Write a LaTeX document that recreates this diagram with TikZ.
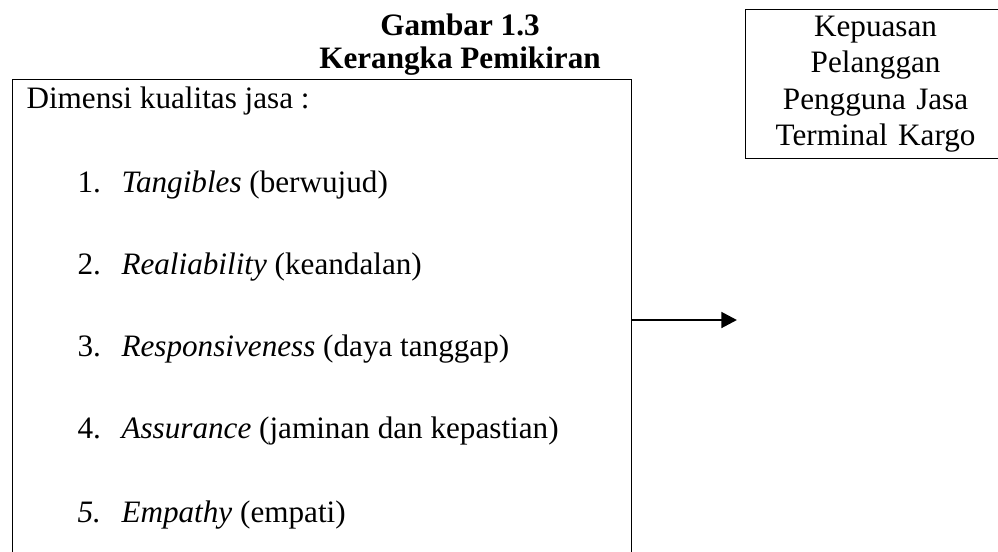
\documentclass[tikz,border=0pt]{standalone}
\usepackage{fontspec}
\setmainfont{Liberation Serif}
\usetikzlibrary{arrows.meta,positioning}

\begin{document}
\begin{tikzpicture}[
  x=0.385pt, y=-0.385pt,
  font=\fontsize{12}{14.1}\selectfont,
  title/.style={anchor=base, inner sep=0pt, font=\fontsize{12}{12.7}\selectfont\bfseries},
  frame/.style={draw=black, line width=0.45pt, anchor=north west, inner sep=0pt},
  item/.style={anchor=base west, inner sep=0pt},
  link/.style={draw=black, line width=1.1pt, -{Triangle[length=6pt,width=6pt]}}
]
\useasboundingbox (0,0) rectangle (998,551);
\node[title] (gambar) at (460,35) {Gambar 1.3};
\node[title] (kerangka) at (460,68) {Kerangka Pemikiran};
\node[frame, minimum width=238.3pt, minimum height=200.6pt] (dimensi) at (12,79) {};
\node[frame, minimum width=100.1pt, minimum height=57.4pt, text width=100pt, align=center] (kepuasan) at (745,9)
  {Kepuasan\\Pelanggan\\Pengguna Jasa\\Terminal Kargo};
\node[item] (judul) at (26,108) {Dimensi kualitas jasa :};
\node[item] (n1) at (77,192) {1.};
\node[item] (t1) at (121,192) {\textit{Tangibles} (berwujud)};
\node[item] (n2) at (77,274) {2.};
\node[item] (t2) at (121,274) {\textit{Realiability} (keandalan)};
\node[item] (n3) at (77,356) {3.};
\node[item] (t3) at (121,356) {\textit{Responsiveness} (daya tanggap)};
\node[item] (n4) at (77,438) {4.};
\node[item] (t4) at (121,438) {\textit{Assurance} (jaminan dan kepastian)};
\node[item] (n5) at (77,522) {\textit{5.}};
\node[item] (t5) at (121,522) {\textit{Empathy} (empati)};
\coordinate (tip) at (737,320);
\draw[link] (dimensi.east |- tip) -- (tip);
\end{tikzpicture}
\end{document}
